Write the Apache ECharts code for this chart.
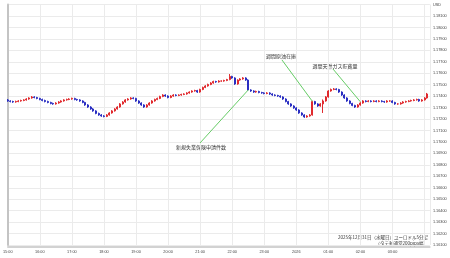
<!DOCTYPE html>
<html>
<head>
<meta charset="utf-8">
<script src="https://cdn.jsdelivr.net/npm/echarts@6/dist/echarts.min.js"></script>
<style>html,body{margin:0;padding:0;background:#fff;}#c{width:450px;height:258px;}</style>
</head>
<body>
<div id="c"></div>
<script>
// Hour tick labels, one every 12 five-minute candles starting at 15:00
const hourLabels = ['15:00','16:00','17:00','18:00','19:00','20:00','21:00','22:00','23:00','2026','01:00','02:00','03:00'];

const openP = [
1.17367,1.17358,1.17353,1.17349,1.17353,1.17358,1.17362,1.17367,1.17375,1.17384,
1.17393,1.17388,1.17380,1.17371,1.17362,1.17353,1.17345,1.17336,1.17332,1.17340,
1.17349,1.17358,1.17367,1.17371,1.17375,1.17380,1.17371,1.17367,1.17358,1.17345,
1.17323,1.17305,1.17288,1.17271,1.17249,1.17236,1.17227,1.17223,1.17236,1.17253,
1.17271,1.17288,1.17305,1.17332,1.17349,1.17367,1.17375,1.17384,1.17380,1.17358,
1.17340,1.17323,1.17305,1.17323,1.17340,1.17358,1.17371,1.17380,1.17397,1.17410,
1.17401,1.17388,1.17401,1.17410,1.17406,1.17410,1.17415,1.17419,1.17428,1.17436,
1.17445,1.17449,1.17436,1.17458,1.17476,1.17489,1.17502,1.17515,1.17528,1.17524,
1.17532,1.17532,1.17537,1.17545,1.17572,1.17559,1.17506,1.17541,1.17550,1.17559,
1.17541,1.17454,1.17445,1.17436,1.17441,1.17432,1.17428,1.17423,1.17428,1.17419,
1.17410,1.17406,1.17401,1.17393,1.17375,1.17353,1.17332,1.17314,1.17297,1.17279,
1.17253,1.17236,1.17218,1.17227,1.17236,1.17353,1.17332,1.17314,1.17332,1.17358,
1.17393,1.17445,1.17458,1.17463,1.17458,1.17436,1.17410,1.17384,1.17358,1.17336,
1.17319,1.17305,1.17323,1.17340,1.17358,1.17353,1.17358,1.17353,1.17358,1.17353,
1.17358,1.17353,1.17349,1.17358,1.17358,1.17345,1.17332,1.17332,1.17340,1.17349,
1.17353,1.17358,1.17362,1.17367,1.17371,1.17358,1.17367,1.17384];

const closeP = [
1.17358,1.17353,1.17349,1.17353,1.17358,1.17362,1.17367,1.17375,1.17384,1.17393,
1.17388,1.17380,1.17371,1.17362,1.17353,1.17345,1.17336,1.17332,1.17340,1.17349,
1.17358,1.17367,1.17371,1.17375,1.17380,1.17371,1.17367,1.17358,1.17345,1.17323,
1.17305,1.17288,1.17271,1.17249,1.17236,1.17227,1.17223,1.17236,1.17253,1.17271,
1.17288,1.17305,1.17332,1.17349,1.17367,1.17375,1.17384,1.17380,1.17358,1.17340,
1.17323,1.17305,1.17323,1.17340,1.17358,1.17371,1.17380,1.17397,1.17410,1.17401,
1.17388,1.17401,1.17410,1.17406,1.17410,1.17415,1.17419,1.17428,1.17436,1.17445,
1.17449,1.17436,1.17458,1.17476,1.17489,1.17502,1.17515,1.17528,1.17524,1.17532,
1.17532,1.17537,1.17545,1.17572,1.17559,1.17506,1.17541,1.17550,1.17559,1.17541,
1.17454,1.17445,1.17436,1.17441,1.17432,1.17428,1.17423,1.17428,1.17419,1.17410,
1.17406,1.17401,1.17393,1.17375,1.17353,1.17332,1.17314,1.17297,1.17279,1.17253,
1.17236,1.17218,1.17227,1.17236,1.17353,1.17332,1.17314,1.17332,1.17358,1.17393,
1.17445,1.17458,1.17463,1.17458,1.17436,1.17410,1.17384,1.17358,1.17336,1.17319,
1.17305,1.17323,1.17340,1.17358,1.17353,1.17358,1.17353,1.17358,1.17353,1.17358,
1.17353,1.17349,1.17358,1.17358,1.17345,1.17332,1.17332,1.17340,1.17349,1.17353,
1.17358,1.17362,1.17367,1.17371,1.17358,1.17367,1.17384,1.17419];

const lowP = [
1.17351,1.17346,1.17342,1.17343,1.17347,1.17352,1.17356,1.17361,1.17369,1.17378,
1.17381,1.17373,1.17364,1.17355,1.17346,1.17338,1.17329,1.17325,1.17326,1.17334,
1.17343,1.17352,1.17361,1.17365,1.17369,1.17364,1.17360,1.17351,1.17338,1.17316,
1.17298,1.17281,1.17264,1.17242,1.17229,1.17220,1.17215,1.17217,1.17230,1.17247,
1.17265,1.17282,1.17299,1.17326,1.17343,1.17361,1.17369,1.17373,1.17351,1.17333,
1.17316,1.17298,1.17299,1.17317,1.17334,1.17352,1.17365,1.17374,1.17391,1.17394,
1.17381,1.17382,1.17395,1.17399,1.17400,1.17404,1.17409,1.17413,1.17422,1.17430,
1.17439,1.17429,1.17430,1.17452,1.17470,1.17483,1.17496,1.17509,1.17517,1.17518,
1.17526,1.17526,1.17531,1.17539,1.17552,1.17499,1.17500,1.17535,1.17544,1.17534,
1.17447,1.17438,1.17429,1.17430,1.17425,1.17421,1.17416,1.17417,1.17412,1.17403,
1.17399,1.17394,1.17386,1.17368,1.17346,1.17325,1.17307,1.17290,1.17272,1.17246,
1.17229,1.17211,1.17212,1.17221,1.17230,1.17325,1.17307,1.17308,1.17253,1.17352,
1.17387,1.17439,1.17452,1.17451,1.17429,1.17403,1.17377,1.17351,1.17329,1.17312,
1.17298,1.17299,1.17317,1.17334,1.17346,1.17347,1.17346,1.17347,1.17346,1.17347,
1.17346,1.17342,1.17343,1.17351,1.17338,1.17325,1.17325,1.17326,1.17334,1.17343,
1.17347,1.17352,1.17356,1.17361,1.17351,1.17352,1.17361,1.17378];

const highP = [
1.17375,1.17364,1.17360,1.17361,1.17365,1.17369,1.17373,1.17382,1.17390,1.17401,
1.17399,1.17394,1.17386,1.17378,1.17369,1.17360,1.17351,1.17343,1.17347,1.17356,
1.17364,1.17373,1.17378,1.17382,1.17387,1.17386,1.17377,1.17373,1.17364,1.17351,
1.17330,1.17312,1.17295,1.17277,1.17256,1.17243,1.17234,1.17243,1.17260,1.17278,
1.17295,1.17312,1.17339,1.17356,1.17374,1.17382,1.17391,1.17390,1.17386,1.17364,
1.17346,1.17329,1.17330,1.17347,1.17365,1.17378,1.17387,1.17404,1.17417,1.17416,
1.17407,1.17408,1.17417,1.17416,1.17416,1.17421,1.17425,1.17434,1.17442,1.17451,
1.17456,1.17455,1.17465,1.17483,1.17496,1.17509,1.17522,1.17535,1.17534,1.17539,
1.17538,1.17543,1.17551,1.17593,1.17578,1.17565,1.17547,1.17557,1.17566,1.17565,
1.17547,1.17460,1.17451,1.17448,1.17447,1.17438,1.17434,1.17435,1.17434,1.17425,
1.17416,1.17412,1.17407,1.17399,1.17381,1.17359,1.17338,1.17320,1.17303,1.17285,
1.17259,1.17242,1.17234,1.17243,1.17360,1.17359,1.17338,1.17339,1.17371,1.17400,
1.17452,1.17466,1.17471,1.17469,1.17464,1.17442,1.17416,1.17390,1.17364,1.17342,
1.17325,1.17330,1.17347,1.17365,1.17364,1.17365,1.17364,1.17365,1.17364,1.17365,
1.17364,1.17359,1.17365,1.17364,1.17364,1.17351,1.17338,1.17347,1.17356,1.17360,
1.17365,1.17369,1.17374,1.17378,1.17377,1.17374,1.17391,1.17428];

// Event annotations
const eventLabels = ['新規失業保険申請件数','週間原油在庫','週間天然ガス貯蔵量'];
const eventCandle = [90, 114, 132];
const eventPrice = [1.17454, 1.17355, 1.17350];

// Layout (pixels) for annotation text and line start
const eventLayout = [
  {tx: 201, ty: 147, lx: 200, ly: 143},
  {tx: 281, ty: 56, lx: 282, ly: 60},
  {tx: 335, ty: 66, lx: 333, ly: 69}
];

const candles = openP.map((o, i) => [i, o, closeP[i], lowP[i], highP[i]]);

const chart = echarts.init(document.getElementById('c'), null, {renderer: 'canvas'});
const axisFont = 'Liberation Sans';
const jpFont = 'Noto Sans CJK JP';

chart.setOption({
  animation: false,
  backgroundColor: '#fff',
  grid: {left: 3.3, right: 20.1, top: 4.55, bottom: 13, containLabel: false},
  xAxis: {
    type: 'value', min: 0, max: 158, interval: 12, offset: 2,
    axisLine: {show: true, onZero: false, lineStyle: {color: '#c4c4c4', width: 1.5}},
    axisTick: {show: false},
    axisLabel: {fontSize: 3.8, color: '#444', margin: 3, fontFamily: axisFont,
      formatter: v => { const k = v / 12; return Number.isInteger(k) && hourLabels[k] ? hourLabels[k] : ''; }},
    splitLine: {show: true, lineStyle: {color: '#ebebeb', width: 1}}
  },
  yAxis: {
    type: 'value', position: 'right', min: 1.161, max: 1.182, interval: 0.001, scale: true,
    axisLine: {show: true, lineStyle: {color: '#c4c4c4', width: 2}},
    axisTick: {show: false},
    axisLabel: {fontSize: 3.8, color: '#444', margin: 3, fontFamily: axisFont,
      formatter: v => v > 1.1815 ? 'USD' : v.toFixed(5)},
    splitLine: {show: true, lineStyle: {color: '#ebebeb', width: 1}}
  },
  series: [{
    type: 'candlestick',
    data: candles,
    barWidth: 1.5,
    clip: false,
    itemStyle: {
      color: '#e02a2e', color0: '#2a2ec2',
      borderColor: '#e02a2e', borderColor0: '#2a2ec2', borderWidth: 1
    },
    markLine: {
      silent: true, symbol: ['none', 'none'], animation: false,
      label: {show: false},
      lineStyle: {color: '#66cc66', width: 1, type: 'solid'},
      emphasis: {disabled: true},
      data: eventCandle.map((c, k) => [
        {x: eventLayout[k].lx, y: eventLayout[k].ly},
        {coord: [c, eventPrice[k]]}
      ])
    }
  }],
  graphic: eventLabels.map((t, k) => ({
    type: 'text', x: eventLayout[k].tx, y: eventLayout[k].ty, silent: true,
    style: {text: t, fill: '#333', font: '5px "' + jpFont + '"', align: 'center', verticalAlign: 'middle'}
  })).concat([{
    type: 'text', x: 428, y: 240, silent: true,
    style: {
      text: '2025年12月31日（水曜日）ユーロドル5分足\n（タテ軸通常200pips幅）',
      fill: '#333', font: '4.5px "' + jpFont + '"', align: 'right', verticalAlign: 'middle',
      lineHeight: 6, backgroundColor: '#fff'
    }
  }])
});
</script>
</body>
</html>
